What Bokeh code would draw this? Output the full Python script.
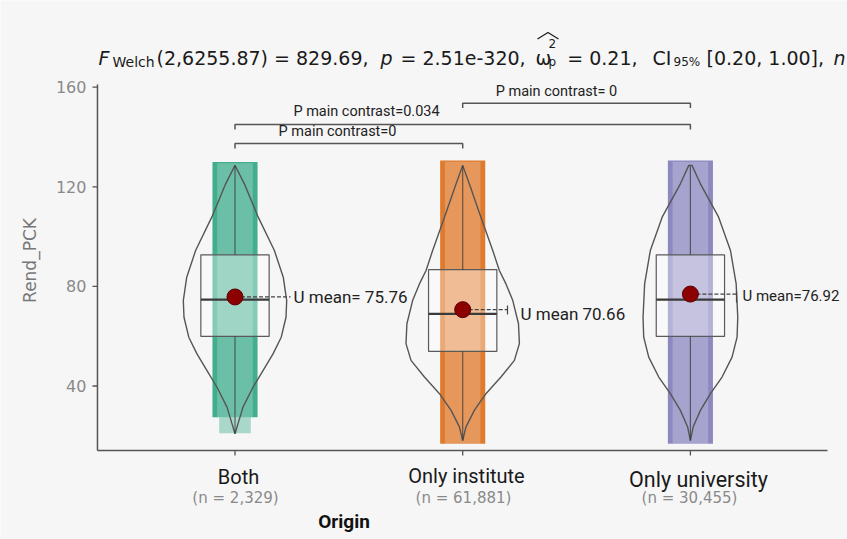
import numpy as np
from bokeh.plotting import figure
from bokeh.models import Range1d, Label
from bokeh.embed import file_html
from bokeh.resources import INLINE

# ---------------- data ----------------
groups = ["Both", "Only institute", "Only university"]
n_labels = ["(n = 2,329)", "(n = 61,881)", "(n = 30,455)"]
colors = ["#1b9e77", "#d95f02", "#7570b3"]
means = [75.76, 70.66, 76.92]
mean_labels = ["U mean= 75.76", "U mean 70.66", "U mean=76.92"]
q1 = [59.9, 53.9, 59.9]
medians = [74.7, 69.0, 74.7]
q3 = [92.7, 86.7, 92.7]
whisk_lo = [20.8, 18.1, 18.1]
whisk_hi = [128.6, 128.6, 128.6]
pts_lo = [27.5, 16.8, 16.8]
pts_hi = [130.0, 130.6, 130.6]
pts_min = [21.0, 16.8, 16.8]

# violin outlines: value levels and half-widths (in category units)
both_vy = [128.6, 121.2, 107.8, 94.4, 83.7, 74.3, 67.6, 59.6, 52.9, 46.2, 39.5, 31.5, 24.8, 20.8]
both_vw = [0.0, 0.041, 0.102, 0.173, 0.212, 0.227, 0.224, 0.203, 0.167, 0.123, 0.079, 0.035, 0.013, 0.0]
inst_vy = [128.6, 121.2, 107.8, 94.4, 86.4, 81.0, 74.3, 65.0, 57.0, 50.3, 43.6, 36.9, 30.2, 23.5, 18.1]
inst_vw = [0.0, 0.029, 0.080, 0.132, 0.161, 0.190, 0.220, 0.245, 0.249, 0.227, 0.168, 0.102, 0.051, 0.014, 0.0]
univ_vy = [128.6, 121.2, 107.8, 94.4, 81.0, 67.6, 59.6, 51.6, 43.6, 36.9, 30.2, 23.5, 18.1]
univ_vw = [0.007, 0.044, 0.124, 0.176, 0.201, 0.208, 0.205, 0.183, 0.139, 0.088, 0.044, 0.012, 0.0]
violin_y = [both_vy, inst_vy, univ_vy]
violin_w = [both_vw, inst_vw, univ_vw]

contrast_pairs = [(1, 2), (1, 3), (2, 3)]
contrast_labels = ["P main contrast=0", "P main contrast=0.034", "P main contrast= 0"]
contrast_heights = [137.4, 145.0, 153.6]

y_ticks = [40, 80, 120, 160]
x_ticks = [1, 2, 3]

# ---------------- geometry ----------------
W, H = 847, 539
SX, SY = 227.7, 2.49          # pixels per unit
X_START = 1 - 234.5 / SX
X_END = X_START + W / SX
Y_END = 160 + 86.7 / SY
Y_START = Y_END - H / SY
AX_X0, AX_X1 = 0.396, 3.602    # axis extents
AX_Y0, AX_Y1 = 14.1, 161.1

def px(X, Y):
    """reference-pixel position -> data position"""
    return (X_START + X / SX, Y_END - Y / SY)

BG = "#f6f6f6"
p = figure(width=W, height=H, output_backend="svg", toolbar_location=None,
           x_range=Range1d(X_START, X_END), y_range=Range1d(Y_START, Y_END),
           x_axis_type=None, y_axis_type=None,
           min_border_left=0, min_border_right=0, min_border_top=0, min_border_bottom=0)
p.background_fill_color = BG
p.border_fill_color = BG
p.outline_line_color = None
p.grid.visible = False

FONT_T = "DejaVu Sans"
FONT_R = "Roboto"
AXC = "#555555"

# axes (drawn through the data scales)
p.line(x=[AX_X0, AX_X0], y=[AX_Y0, AX_Y1], line_color=AXC, line_width=1.5)
p.line(x=[AX_X0, AX_X1], y=[AX_Y0, AX_Y0], line_color=AXC, line_width=1.5)
tdx = 5 / SX
tdy = 5 / SY
p.segment(x0=[AX_X0 - tdx] * len(y_ticks), y0=y_ticks, x1=[AX_X0] * len(y_ticks), y1=y_ticks,
          line_color=AXC, line_width=1.3)
p.segment(x0=x_ticks, y0=[AX_Y0 - tdy] * 3, x1=x_ticks, y1=[AX_Y0] * 3,
          line_color=AXC, line_width=1.3)
for t in y_ticks:
    p.add_layout(Label(x=AX_X0, y=t, text=str(t), x_offset=-11, text_align="right",
                       text_baseline="middle", text_font=FONT_T, text_font_size="16px",
                       text_color="#8a8a8a"))

half_band = 0.099
box_half = 0.15
for i in range(3):
    g = x_ticks[i]
    c = colors[i]
    # jittered points band
    p.quad(left=[g - half_band], right=[g + half_band], bottom=[pts_lo[i]], top=[pts_hi[i]],
           fill_color=c, fill_alpha=0.82, line_color=None)
    p.quad(left=[g - half_band * 0.7], right=[g + half_band * 0.7], bottom=[pts_min[i]], top=[pts_lo[i]],
           fill_color=c, fill_alpha=0.35, line_color=None)
    p.quad(left=[g - 0.078], right=[g + 0.078], bottom=[pts_lo[i]], top=[pts_hi[i] - 0.5],
           fill_color="white", fill_alpha=0.22, line_color=None)
    # violin
    vy = violin_y[i]
    vw = violin_w[i]
    xs = [g + w for w in vw] + [g - w for w in vw[::-1]]
    ys = list(vy) + list(vy[::-1])
    p.patch(xs, ys, fill_alpha=0, line_color="#555555", line_width=1.4)
    # box
    p.quad(left=[g - box_half], right=[g + box_half], bottom=[q1[i]], top=[q3[i]],
           fill_color="white", fill_alpha=0.35, line_color="#5a5a5a", line_width=1.2)
    p.segment(x0=[g, g], y0=[whisk_lo[i], q3[i]], x1=[g, g], y1=[q1[i], whisk_hi[i]],
              line_color="#333333", line_alpha=0.7, line_width=1.2)
    p.segment(x0=[g - box_half], y0=[medians[i]], x1=[g + box_half], y1=[medians[i]],
              line_color="#3a3a3a", line_width=2.2)

# mean connectors and labels
conn_end = [290, 507, 736]
lab_pos = [(293, 296.7, "17px"), (520, 313, "17px"), (742, 295.7, "15px")]
for i in range(3):
    g = x_ticks[i]
    xe, _ = px(conn_end[i], 0)
    p.segment(x0=[g], y0=[means[i]], x1=[xe], y1=[means[i]], line_color="#444444",
              line_width=1.2, line_dash="4 2")
    lx, ly = px(lab_pos[i][0], lab_pos[i][1])
    p.add_layout(Label(x=lx, y=ly, text=mean_labels[i], text_font=FONT_R,
                       text_font_size=lab_pos[i][2], text_color="#222222",
                       text_align="left", text_baseline="middle"))
for Xc, Y0, Y1 in [(507, 305, 314), (736, 291, 302)]:
    xa, ya = px(Xc, Y0)
    _, yb = px(Xc, Y1)
    p.segment(x0=[xa], y0=[ya], x1=[xa], y1=[yb], line_color="#444444", line_width=1.2)

p.scatter(x=x_ticks, y=means, size=16, fill_color="#8b0000", line_color="#5c0000", line_width=1)

# contrast brackets
tick_len = 2.0
for (a, b), h in zip(contrast_pairs, contrast_heights):
    p.line(x=[a, a, b, b], y=[h - tick_len, h, h, h - tick_len], line_color="#555555", line_width=1.5)
c_lab_pos = [(337, 131), (366, 110.5), (556, 90.5)]
for t, (X, Y) in zip(contrast_labels, c_lab_pos):
    lx, ly = px(X, Y)
    p.add_layout(Label(x=lx, y=ly, text=t, text_font=FONT_R, text_font_size="14.5px",
                       text_color="#222222", text_align="center", text_baseline="middle"))

# x category labels
cat_pos = [(238, 476, "20px"), (466, 475, "20px"), (698, 479, "21.5px")]
n_pos = [(235, 497), (463, 497), (689, 497)]
for i in range(3):
    lx, ly = px(cat_pos[i][0], cat_pos[i][1])
    p.add_layout(Label(x=lx, y=ly, text=groups[i], text_font=FONT_R, text_font_size=cat_pos[i][2],
                       text_color="#1a1a1a", text_align="center", text_baseline="middle"))
    lx, ly = px(n_pos[i][0], n_pos[i][1])
    p.add_layout(Label(x=lx, y=ly, text=n_labels[i], text_font=FONT_T, text_font_size="15px",
                       text_color="#8a8a8a", text_align="center", text_baseline="middle"))

lx, ly = px(343.5, 520.5)
p.add_layout(Label(x=lx, y=ly, text="Origin", text_font=FONT_R, text_font_size="19px",
                   text_font_style="bold", text_color="#111111", text_align="center",
                   text_baseline="middle"))

lx, ly = px(29, 260)
p.add_layout(Label(x=lx, y=ly, text="Rend_PCK", text_font=FONT_T, text_font_size="17px",
                   text_color="#777777", text_align="center", text_baseline="middle",
                   angle=np.pi / 2))

# title pieces (reference pixel x, baseline y, text, size, style)
BASE = 57.5
title_parts = [
    (98, BASE, "F", "19px", "italic"),
    (112, BASE + 3.5, "Welch", "14px", "normal"),
    (156, BASE, "(2,6255.87) = 829.69,", "19px", "normal"),
    (380, BASE, "p", "19px", "italic"),
    (400, BASE, "= 2.51e-320,", "19px", "normal"),
    (535, BASE, "\u03c9", "19px", "normal"),
    (548, BASE - 14.5, "2", "12px", "normal"),
    (548, BASE + 3.5, "p", "12px", "normal"),
    (566.7, BASE, "= 0.21,", "19px", "normal"),
    (652, BASE, "CI", "19px", "normal"),
    (673, BASE + 3.5, "95%", "12px", "normal"),
    (706, BASE, "[0.20, 1.00],", "19px", "normal"),
    (833, BASE, "n", "19px", "italic"),
]
for X, Y, t, fs, st in title_parts:
    lx, ly = px(X, Y)
    p.add_layout(Label(x=lx, y=ly, text=t, text_font=FONT_T, text_font_size=fs,
                       text_font_style=st, text_color="#1a1a1a",
                       text_align="left", text_baseline="alphabetic"))
hx0, hy0 = px(537, 38.5)
hx1, hy1 = px(547.5, 32)
hx2, hy2 = px(558, 38.5)
p.line(x=[hx0, hx1, hx2], y=[hy0, hy1, hy2], line_color="#1a1a1a", line_width=1.2)

open("out.html", "w").write(file_html(p, INLINE))
